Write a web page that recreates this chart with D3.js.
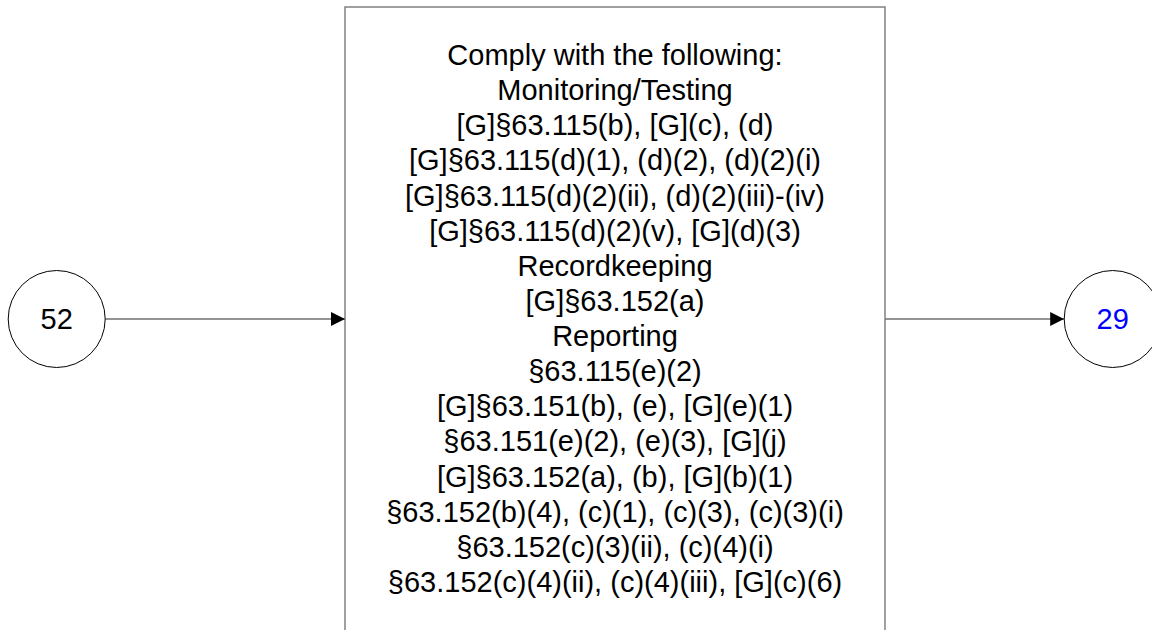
<!DOCTYPE html>
<html lang="en">
<head>
<meta charset="UTF-8">
<title>Flow step</title>
<script src="https://d3js.org/d3.v7.min.js"></script>
<style>
  body { margin: 0; background: #fff; }
  text { font-family: "Liberation Sans", Arial, sans-serif; }
</style>
</head>
<body>
<div id="chart"></div>
<script>
// node labels and colours
var nodeLabels = ["52", "29"];
var nodeColors = ["#000000", "#0000ff"];

// text lines inside the box
var boxLines = [
  "Comply with the following:",
  "Monitoring/Testing",
  "[G]§63.115(b), [G](c), (d)",
  "[G]§63.115(d)(1), (d)(2), (d)(2)(i)",
  "[G]§63.115(d)(2)(ii), (d)(2)(iii)-(iv)",
  "[G]§63.115(d)(2)(v), [G](d)(3)",
  "Recordkeeping",
  "[G]§63.152(a)",
  "Reporting",
  "§63.115(e)(2)",
  "[G]§63.151(b), (e), [G](e)(1)",
  "§63.151(e)(2), (e)(3), [G](j)",
  "[G]§63.152(a), (b), [G](b)(1)",
  "§63.152(b)(4), (c)(1), (c)(3), (c)(3)(i)",
  "§63.152(c)(3)(ii), (c)(4)(i)",
  "§63.152(c)(4)(ii), (c)(4)(iii), [G](c)(6)"
];

var width = 1152, height = 630;
var svg = d3.select("#chart").append("svg")
    .attr("width", width)
    .attr("height", height);

var r = 48.5, midY = 319;
var box = { x0: 345, x1: 885, y0: 7 };

// horizontal layout: left node, box, right node
var x = d3.scalePoint()
    .domain(["in", "box", "out"])
    .range([56.7, 1112.7]);

var defs = svg.append("defs");
defs.append("marker")
    .attr("id", "arrow")
    .attr("viewBox", "0 0 14 14")
    .attr("refX", 14).attr("refY", 7)
    .attr("markerWidth", 14).attr("markerHeight", 14)
    .attr("markerUnits", "userSpaceOnUse")
    .attr("orient", "auto")
  .append("path")
    .attr("d", "M0,0L14,7L0,14Z")
    .attr("fill", "#000");

// box
svg.append("rect")
    .attr("x", box.x0).attr("y", box.y0)
    .attr("width", box.x1 - box.x0)
    .attr("height", height + 20)
    .attr("fill", "#fff")
    .attr("stroke", "#808080")
    .attr("stroke-width", 1.5);

// box text
var y = d3.scaleLinear()
    .domain([0, boxLines.length - 1])
    .range([65, 592]);

svg.append("g")
  .selectAll("text")
  .data(boxLines)
  .enter()
  .append("text")
    .attr("x", (box.x0 + box.x1) / 2)
    .attr("y", function (d, i) { return y(i); })
    .attr("text-anchor", "middle")
    .style("font-size", "29px")
    .attr("fill", "#000")
    .text(function (d) { return d; });

// connectors
var links = [
  { x1: x("in") + r, x2: box.x0 },
  { x1: box.x1, x2: x("out") - r }
];
svg.selectAll(".link")
  .data(links)
  .enter()
  .append("line")
    .attr("class", "link")
    .attr("x1", function (d) { return d.x1; })
    .attr("x2", function (d) { return d.x2; })
    .attr("y1", midY).attr("y2", midY)
    .attr("stroke", "#707070")
    .attr("stroke-width", 1.3)
    .attr("marker-end", "url(#arrow)");

// nodes
var nodes = svg.selectAll(".node")
  .data(nodeLabels)
  .enter()
  .append("g")
    .attr("class", "node")
    .attr("transform", function (d, i) {
      return "translate(" + x(i === 0 ? "in" : "out") + "," + midY + ")";
    });

nodes.append("circle")
    .attr("r", r)
    .attr("fill", "#fff")
    .attr("stroke", "#000")
    .attr("stroke-width", 1);

nodes.append("text")
    .attr("text-anchor", "middle")
    .attr("dy", "0.33em")
    .style("font-size", "29px")
    .attr("fill", function (d, i) { return nodeColors[i]; })
    .text(function (d) { return d; });
</script>
</body>
</html>
